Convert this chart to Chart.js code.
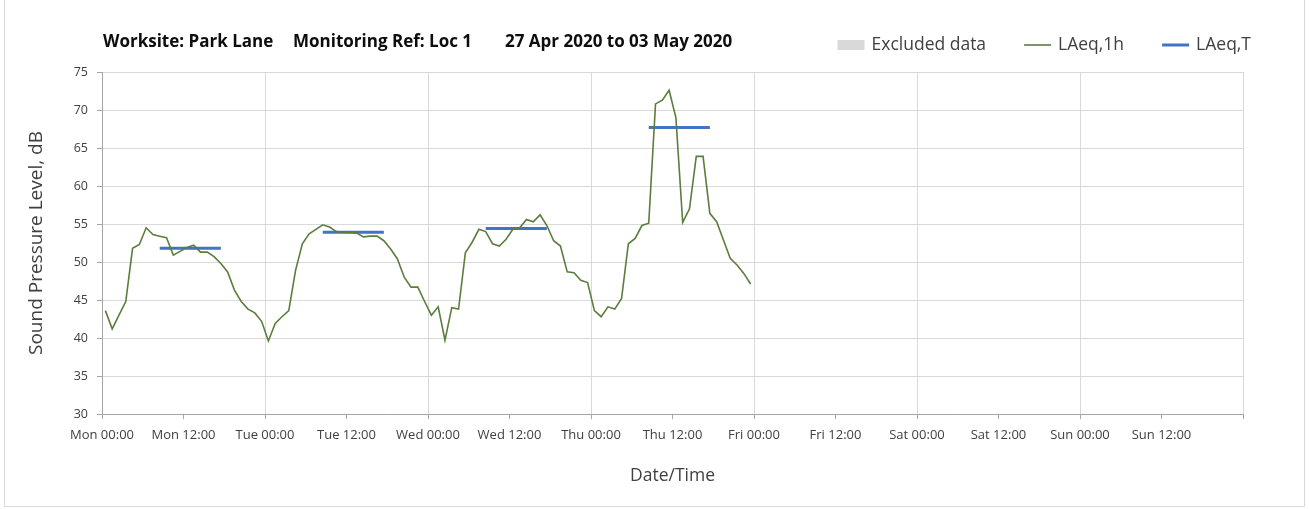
<!DOCTYPE html>
<html>
<head>
<meta charset="utf-8">
<title>Worksite: Park Lane - Loc 1</title>
<script src="https://cdn.jsdelivr.net/npm/chart.js@4.4.1/dist/chart.umd.min.js"></script>
<style>
  html, body { margin: 0; padding: 0; background: #fff; }
  #wrap { position: relative; width: 1309px; height: 509px; }
  #frame { position: absolute; left: 4px; top: -1px; width: 1301px; height: 508px;
           border: 1px solid #d9d9d9; box-sizing: border-box; pointer-events: none; }
</style>
</head>
<body>
<div id="wrap">
  <canvas id="noiseChart" width="1309" height="509"></canvas>
  <div id="frame"></div>
</div>
<script>
// hourly LAeq,1h values, Mon 00:00 onwards (one per hour, plotted mid-hour)
const laeq1h = [
  43.6, 41.2, 43.0, 44.8, 51.8, 52.3, 54.5, 53.6, 53.4, 53.2, 50.9, 51.4,
  51.9, 52.2, 51.3, 51.3, 50.7, 49.8, 48.7, 46.3, 44.8, 43.8, 43.3, 42.2,
  39.6, 41.9, 42.8, 43.6, 48.9, 52.4, 53.7, 54.3, 54.9, 54.6, 54.0, 53.9,
  53.9, 53.8, 53.3, 53.4, 53.4, 52.8, 51.7, 50.4, 48.0, 46.7, 46.7, 44.8,
  43.0, 44.1, 39.7, 44.0, 43.8, 51.2, 52.6, 54.3, 54.0, 52.4, 52.1, 53.0,
  54.3, 54.5, 55.6, 55.3, 56.2, 54.8, 52.8, 52.1, 48.7, 48.6, 47.6, 47.3,
  43.6, 42.8, 44.1, 43.8, 45.2, 52.4, 53.1, 54.8, 55.1, 70.8, 71.3, 72.6,
  69.0, 55.2, 57.0, 63.9, 63.9, 56.4, 55.3, 52.9, 50.5, 49.6, 48.5, 47.1
];

// LAeq,T daytime periods (hours from Mon 00:00) and levels
const laeqTStart = [8.5, 32.5, 56.5, 80.5];
const laeqTEnd = [17.5, 41.5, 65.5, 89.5];
const laeqTValues = [51.8, 53.9, 54.4, 67.7];

// x axis tick labels, every 12 hours from Mon 00:00 to next Mon 00:00
const tickLabels = [
  'Mon 00:00', 'Mon 12:00', 'Tue 00:00', 'Tue 12:00', 'Wed 00:00', 'Wed 12:00',
  'Thu 00:00', 'Thu 12:00', 'Fri 00:00', 'Fri 12:00', 'Sat 00:00', 'Sat 12:00',
  'Sun 00:00', 'Sun 12:00', ''
];

const titleParts = ['Worksite: Park Lane', 'Monitoring Ref: Loc 1', '27 Apr 2020 to 03 May 2020'];

const FONT = "'Open Sans', 'DejaVu Sans', sans-serif";

const hourlyPoints = laeq1h.map((v, i) => ({ x: i + 0.5, y: v }));

const periodPoints = [];
laeqTValues.forEach((v, i) => {
  periodPoints.push({ x: laeqTStart[i], y: v });
  periodPoints.push({ x: laeqTEnd[i], y: v });
  periodPoints.push({ x: laeqTEnd[i] + 0.5, y: null });
});

// title row + legend row drawn in the top margin
const headerPlugin = {
  id: 'header',
  afterDraw(chart) {
    const ctx = chart.ctx;
    ctx.save();
    ctx.textBaseline = 'middle';
    ctx.fillStyle = '#0d0d0d';
    ctx.font = 'bold 17px ' + FONT;
    const titleX = [103, 293, 505];
    titleParts.forEach((t, i) => ctx.fillText(t, titleX[i], 42));

    ctx.font = '17.5px ' + FONT;
    const items = chart.data.datasets;
    const gap = 38, sw = 27, tg = 7;
    let total = 0;
    items.forEach((d, i) => {
      total += sw + tg + ctx.measureText(d.label).width + (i < items.length - 1 ? gap : 0);
    });
    let x = 1251 - total;
    const y = 45;
    items.forEach(d => {
      if (d.legendBox) {
        ctx.fillStyle = d.backgroundColor;
        ctx.fillRect(x, y - 5, sw, 10);
      } else {
        ctx.strokeStyle = d.borderColor;
        ctx.lineWidth = d.borderWidth;
        ctx.beginPath();
        ctx.moveTo(x, y);
        ctx.lineTo(x + sw, y);
        ctx.stroke();
      }
      ctx.fillStyle = '#404040';
      ctx.fillText(d.label, x + sw + tg, y);
      x += sw + tg + ctx.measureText(d.label).width + gap;
    });
    ctx.restore();
  }
};

const ctx = document.getElementById('noiseChart').getContext('2d');
new Chart(ctx, {
  type: 'line',
  data: {
    datasets: [
      {
        label: 'Excluded data',
        type: 'bar',
        data: [],
        backgroundColor: '#d9d9d9',
        legendBox: true
      },
      {
        label: 'LAeq,1h',
        data: hourlyPoints,
        borderColor: '#5b7d3d',
        borderWidth: 1.6,
        pointRadius: 0,
        tension: 0
      },
      {
        label: 'LAeq,T',
        data: periodPoints,
        borderColor: '#4472c4',
        borderWidth: 3,
        pointRadius: 0,
        spanGaps: false,
        tension: 0
      }
    ]
  },
  options: {
    responsive: false,
    animation: false,
    layout: { padding: { top: 72, right: 66, left: 0, bottom: 0 } },
    plugins: {
      legend: { display: false },
      tooltip: { enabled: false }
    },
    scales: {
      x: {
        type: 'linear',
        offset: false,
        min: 0,
        max: 168,
        afterFit(scale) { scale.height = 95; },
        ticks: {
          stepSize: 12,
          autoSkip: false,
          maxRotation: 0,
          padding: 8,
          color: '#404040',
          font: { family: FONT, size: 13 },
          callback: (v) => tickLabels[Math.round(v / 12)]
        },
        grid: {
          offset: false,
          color: (c) => (c.tick && c.tick.value % 24 === 0) ? '#d9d9d9' : 'rgba(0,0,0,0)',
          tickColor: '#a6a6a6',
          tickLength: 5
        },
        border: { color: '#a6a6a6' },
        title: {
          display: true,
          text: 'Date/Time',
          color: '#404040',
          font: { family: FONT, size: 17.5 },
          padding: { top: 0, bottom: 22 }
        }
      },
      y: {
        min: 30,
        max: 75,
        afterFit(scale) { scale.width = 102; },
        ticks: {
          stepSize: 5,
          padding: 9,
          color: '#404040',
          font: { family: FONT, size: 12.5 }
        },
        grid: {
          color: '#d9d9d9',
          tickColor: '#a6a6a6',
          tickLength: 5
        },
        border: { color: '#a6a6a6' },
        title: {
          display: true,
          text: 'Sound Pressure Level, dB',
          color: '#404040',
          font: { family: FONT, size: 19 },
          padding: { top: 25, bottom: 0 }
        }
      }
    }
  },
  plugins: [headerPlugin]
});
</script>
</body>
</html>
